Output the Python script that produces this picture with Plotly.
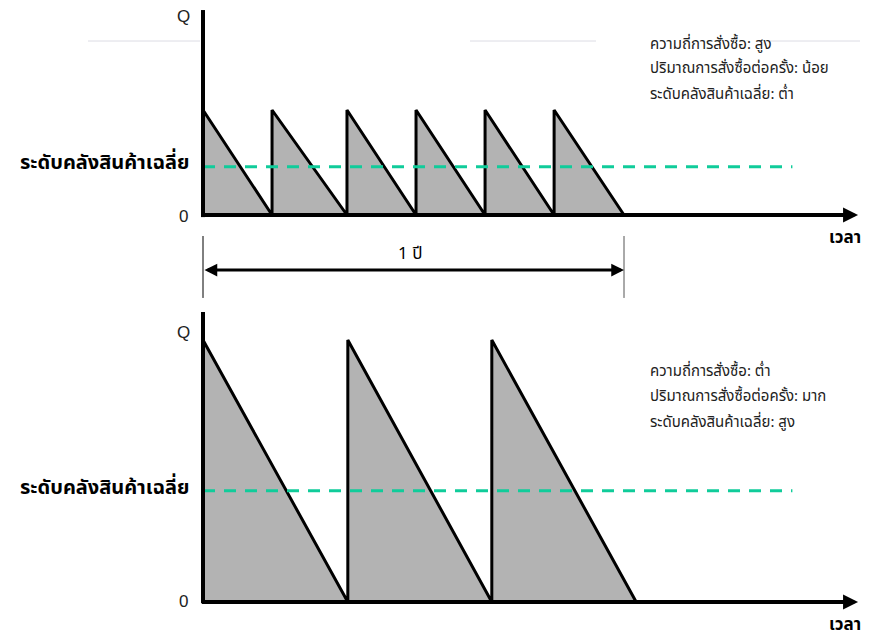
import plotly.graph_objects as go

W, H = 883, 637

# Order (replenishment) times in years and order quantities for the two policies
top_order_times = [0.0, 0.164, 0.342, 0.506, 0.670, 0.834, 1.0]
top_order_qty = 1.0
top_avg_level = 0.46

bottom_order_times = [0.0, 0.344, 0.686, 1.029]
bottom_order_qty = 2.0
bottom_avg_level = 0.85

top_notes = ["ความถี่การสั่งซื้อ: สูง", "ปริมาณการสั่งซื้อต่อครั้ง: น้อย", "ระดับคลังสินค้าเฉลี่ย: ต่ำ"]
bottom_notes = ["ความถี่การสั่งซื้อ: ต่ำ", "ปริมาณการสั่งซื้อต่อครั้ง: มาก", "ระดับคลังสินค้าเฉลี่ย: สูง"]
avg_label = "ระดับคลังสินค้าเฉลี่ย"
time_label = "เวลา"
year_label = "1 ปี"

THAI_FONT = "Tahoma, 'Noto Sans Thai', 'Loma', 'Garuda', 'DejaVu Sans', sans-serif"
LATIN_FONT = "Arial, 'Liberation Sans', sans-serif"
FILL = "#b3b3b3"
TEAL = "#10cc9a"
AXIS_END = 1.556   # time at the arrow tip of the time axis
AVG_END = 1.40     # time where the average-level line stops


def sawtooth(times, qty):
    xs, ys = [], []
    for i in range(len(times) - 1):
        xs += [times[i], times[i], times[i + 1]]
        ys += [0, qty, 0]
    return xs, ys


def px(x):
    return x / W


def py(y):
    return 1 - y / H


def label(text, x, y, size, family, color="black", xanchor="center"):
    return dict(x=px(x), y=py(y), xref="paper", yref="paper", text=text,
                xanchor=xanchor, yanchor="middle", showarrow=False,
                font=dict(family=family, size=size, color=color))


fig = go.Figure()

for times, qty, avg, yax in [
    (top_order_times, top_order_qty, top_avg_level, "y"),
    (bottom_order_times, bottom_order_qty, bottom_avg_level, "y2"),
]:
    xs, ys = sawtooth(times, qty)
    fig.add_trace(go.Scatter(
        x=xs, y=ys, yaxis=yax, mode="lines", fill="toself", fillcolor=FILL,
        line=dict(color="black", width=3), hoverinfo="skip", showlegend=False,
    ))
    fig.add_trace(go.Scatter(
        x=[0, AVG_END], y=[avg, avg], yaxis=yax, mode="lines",
        line=dict(color=TEAL, width=3, dash="12px,9px"), hoverinfo="skip", showlegend=False,
    ))

shapes = []
annotations = []

# Vertical (inventory) axes
shapes.append(dict(type="line", xref="x", yref="y", x0=0, x1=0, y0=-0.02, y1=1.952,
                   line=dict(color="black", width=4)))
shapes.append(dict(type="line", xref="x", yref="y2", x0=0, x1=0, y0=-0.01, y1=2.214,
                   line=dict(color="black", width=4)))

# Time axes with arrow heads
for yref in ["y", "y2"]:
    annotations.append(dict(
        x=AXIS_END, y=0, xref="x", yref=yref, ax=-0.006, ay=0, axref="x", ayref=yref,
        text="", showarrow=True, arrowhead=2, arrowsize=0.75, arrowwidth=4, arrowcolor="black",
        standoff=0,
    ))

# One-year span marker
shapes.append(dict(type="line", xref="x", yref="y", x0=0, x1=0, y0=-0.2, y1=-0.79,
                   line=dict(color="black", width=1)))
shapes.append(dict(type="line", xref="x", yref="y", x0=1, x1=1, y0=-0.2, y1=-0.79,
                   line=dict(color="#555555", width=1)))
annotations.append(dict(
    x=1, y=-0.524, xref="x", yref="y", ax=0, ay=-0.524, axref="x", ayref="y",
    text="", showarrow=True, arrowhead=2, arrowsize=0.85, arrowwidth=3, arrowcolor="black",
    arrowside="end+start", startarrowhead=2, startarrowsize=0.85, standoff=0, startstandoff=0,
))
annotations.append(label(year_label, 410, 254, 17, THAI_FONT))

# Faint rule across the top
for x0, x1 in [(88, 200), (470, 596), (765, 860)]:
    shapes.append(dict(type="line", xref="paper", yref="paper", x0=px(x0), x1=px(x1),
                       y0=py(41), y1=py(41), line=dict(color="#dcdce4", width=1), layer="below"))

# Axis end labels
for text, x, y in [("Q", 183, 17), ("0", 183, 216), ("Q", 183, 332), ("0", 183, 601)]:
    annotations.append(label(text, x, y, 17, LATIN_FONT, color="#222222"))

for y in [238, 625]:
    annotations.append(label(f"<b>{time_label}</b>", 845, y, 17, THAI_FONT))

for y in [163, 488]:
    annotations.append(label(f"<b>{avg_label}</b>", 191, y, 20, THAI_FONT, xanchor="right"))

for notes, ys in [(top_notes, [44, 68, 95]), (bottom_notes, [371, 396, 422])]:
    for text, y in zip(notes, ys):
        annotations.append(label(text, 648, y, 15, THAI_FONT, color="#222222", xanchor="left"))

fig.update_layout(
    width=W, height=H, margin=dict(l=0, r=0, t=0, b=0),
    paper_bgcolor="white", plot_bgcolor="white",
    xaxis=dict(range=[-203 / 421, (W - 203) / 421], visible=False, fixedrange=True),
    yaxis=dict(range=[(215 - H) / 105, 215 / 105], visible=False, fixedrange=True),
    yaxis2=dict(range=[(602 - H) / 131, 602 / 131], overlaying="y", visible=False, fixedrange=True),
    shapes=shapes, annotations=annotations, showlegend=False,
)

fig.write_html("out.html")
